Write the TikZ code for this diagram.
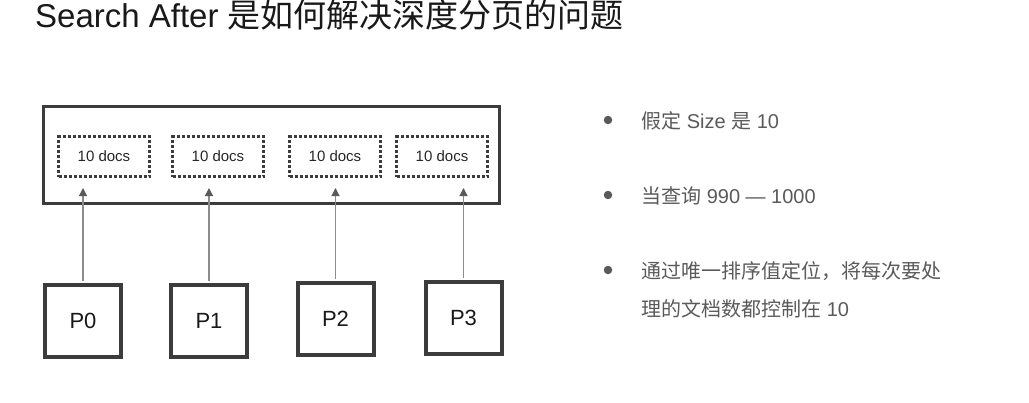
\documentclass[tikz,border=0pt]{standalone}
\usepackage{fontspec}
\setmainfont{Liberation Sans}
\newfontfamily\cjk{Noto Sans CJK SC}
\usepackage{xcolor}
\usetikzlibrary{arrows.meta,positioning}
\definecolor{boxgray}{HTML}{3C3C3C}
\definecolor{linegray}{HTML}{8C8C8C}
\definecolor{textgray}{HTML}{5A5A5A}
\newcommand{\zh}[1]{{\cjk #1}}

\begin{document}
\begin{tikzpicture}[
    x=1pt, y=-1pt,
    outer/.style={
        draw=boxgray,
        line width=3pt,
        minimum width=456pt,
        minimum height=97pt
    },
    batch/.style={
        draw=boxgray,
        line width=3pt,
        dash pattern=on 3pt off 2pt,
        minimum width=91pt,
        minimum height=40pt,
        font=\fontsize{15}{18}\selectfont,
        text=black!85
    },
    shard/.style={
        draw=boxgray,
        line width=4pt,
        minimum width=76pt,
        minimum height=72pt,
        font=\fontsize{22}{26}\selectfont,
        text=black!90
    },
    dot/.style={circle, fill=textgray, inner sep=0pt, minimum size=8.5pt},
    item/.style={
        anchor=base west,
        inner sep=0pt,
        align=left,
        text=textgray,
        font=\fontsize{20}{38}\selectfont
    },
    arrow/.style={-{Triangle[length=8pt, width=8pt, color=textgray]},
        draw=linegray, line width=1.2pt}
]
    \useasboundingbox (0,0) rectangle (1029,402);

    \node[anchor=base west, inner sep=0pt, font=\fontsize{33}{38}\selectfont,
        text=black!90] (title) at (35,27) {Search After \zh{是如何解决深度分页的问题}};

    % coordinator with the four result pages
    \node[outer] (coord) at (271.5,155) {};
    \node[batch] (d0) at (104,156.5) {10 docs};
    \node[batch] (d1) at (218,156.5) {10 docs};
    \node[batch] (d2) at (335,156.5) {10 docs};
    \node[batch] (d3) at (442,156.5) {10 docs};

    % shards
    \node[shard] (p0) at (83,320.5) {P0};
    \node[shard] (p1) at (209,320.5) {P1};
    \node[shard] (p2) at (335.5,319) {P2};
    \node[shard] (p3) at (463.5,318) {P3};

    \draw[arrow, shorten <=2pt, shorten >=10pt] (p0.north) -- (p0.north |- d0.south);
    \draw[arrow, shorten <=2pt, shorten >=10pt] (p1.north) -- (p1.north |- d1.south);
    \draw[arrow, shorten <=2pt, shorten >=10pt] (p2.north) -- (p2.north |- d2.south);
    \draw[arrow, shorten <=2pt, shorten >=10pt] (p3.north) -- (p3.north |- d3.south);

    % notes
    \node[dot] (b1) at (608,120) {};
    \node[dot] (b2) at (608,195) {};
    \node[dot] (b3) at (608,270) {};
    \node[item] (t1) at (641,128) {\zh{假定} Size \zh{是} 10};
    \node[item] (t2) at (641,203) {\zh{当查询} 990 — 1000};
    \node[item] (t3) at (641,316)
        {\zh{通过唯一排序值定位，将每次要处}\\\zh{理的文档数都控制在} 10};
\end{tikzpicture}
\end{document}
